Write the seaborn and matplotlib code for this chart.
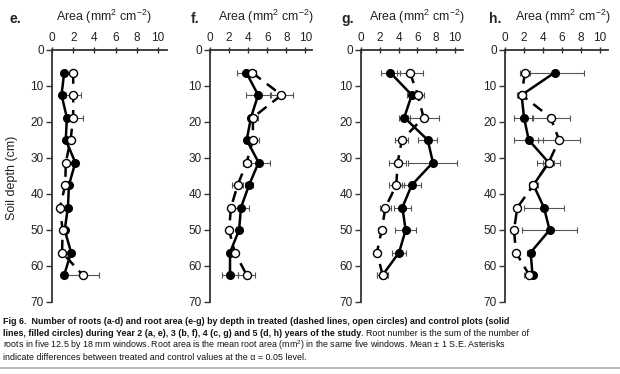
import numpy as np
import pandas as pd
import matplotlib
matplotlib.use("Agg")
import matplotlib.pyplot as plt
import seaborn as sns
from matplotlib import font_manager as fm

sns.set_style("white")
plt.rcParams["font.family"] = ["Liberation Sans", "DejaVu Sans"]
plt.rcParams["mathtext.fontset"] = "custom"
plt.rcParams["mathtext.rm"] = "Liberation Sans"
plt.rcParams["mathtext.it"] = "Liberation Sans:italic"
plt.rcParams["mathtext.bf"] = "Liberation Sans:bold"

# ---------------- data ----------------
depth = [6.25, 12.5, 18.75, 25, 31.25, 37.5, 43.75, 50, 56.25, 62.5]
panel_labels = ["e.", "f.", "g.", "h."]
x_ticks = [0, 2, 4, 6, 8, 10]
y_ticks = [0, 10, 20, 30, 40, 50, 60, 70]

e_control = [1.15, 0.9, 1.4, 1.3, 2.2, 1.6, 1.5, 1.2, 1.8, 1.15]
e_control_se = [0.15, 0.15, 0.2, 0.2, 0.3, 0.2, 0.2, 0.15, 0.3, 0.2]
e_treated = [2.0, 2.0, 2.0, 1.75, 1.3, 1.25, 0.75, 1.0, 0.95, 2.9]
e_treated_se = [0.2, 0.7, 0.9, 0.3, 0.2, 0.2, 0.2, 0.15, 0.2, 1.5]

f_control = [3.8, 5.05, 4.3, 3.85, 5.1, 4.1, 3.25, 3.05, 2.1, 2.1]
f_control_se = [1.0, 1.3, 0.3, 0.3, 1.2, 0.4, 0.8, 0.3, 0.2, 0.8]
f_treated = [4.4, 7.5, 4.5, 4.5, 3.85, 2.9, 2.2, 2.0, 2.6, 3.85]
f_treated_se = [0.4, 1.2, 0.5, 0.6, 0.4, 0.6, 0.1, 0.2, 0.2, 0.9]

g_control = [3.1, 5.4, 4.6, 7.1, 7.65, 5.4, 4.4, 4.75, 4.05, 2.3]
g_control_se = [1.0, 0.5, 0.6, 1.0, 2.6, 1.0, 0.9, 1.1, 0.7, 0.6]
g_treated = [5.2, 6.05, 6.65, 4.35, 3.9, 3.75, 2.6, 2.2, 1.7, 2.3]
g_treated_se = [1.4, 0.7, 1.6, 0.7, 0.9, 0.8, 0.6, 0.4, 0.3, 0.6]

h_control = [5.25, 1.75, 2.0, 2.5, 4.6, 3.0, 4.1, 4.7, 2.7, 2.9]
h_control_se = [3.1, 0.5, 1.0, 1.5, 0.6, 0.4, 2.1, 2.9, 0.4, 0.3]
h_treated = [2.1, 1.75, 4.8, 5.7, 4.6, 3.0, 1.3, 0.95, 1.15, 2.55]
h_treated_se = [0.5, 0.4, 2.0, 2.2, 1.2, 0.5, 0.3, 0.3, 0.2, 0.5]

panels = [
    (e_control, e_control_se, e_treated, e_treated_se),
    (f_control, f_control_se, f_treated, f_treated_se),
    (g_control, g_control_se, g_treated, g_treated_se),
    (h_control, h_control_se, h_treated, h_treated_se),
]

caption_lines = [
    "Fig 6.  Number of roots (a-d) and root area (e-g) by depth in treated (dashed lines, open circles) and control plots (solid",
    "lines, filled circles) during Year 2 (a, e), 3 (b, f), 4 (c, g) and 5 (d, h) years of the study",
    ". Root number is the sum of the number of",
    "roots in five 12.5 by 18 mm windows. Root area is the mean root area (mm$^{2}$) in the same five windows. Mean \u00b1 1 S.E. Asterisks",
    "indicate differences between treated and control values at the \u03b1 = 0.05 level.",
]

# ---------------- layout (pixels) ----------------
W, H = 620, 374
fig = plt.figure(figsize=(W / 100, H / 100), dpi=100)
ax_px = [(52, 167), (210, 312), (361, 463), (505, 608)]
xmax = [10.85, 10.7, 10.85, 10.85]
top_px, bot_px = 50, 302
title_cx = [104.5, 266, 417, 563]
label_x = [10, 191, 341, 489]

tick_font = 8.5

for i, (ctl, ctl_se, trt, trt_se) in enumerate(panels):
    l, r = ax_px[i]
    ax = fig.add_axes([l / W, (H - bot_px) / H, (r - l) / W, (bot_px - top_px) / H])
    ax.set_facecolor("none")
    df = pd.DataFrame({
        "depth": depth * 2,
        "area": list(ctl) + list(trt),
        "se": list(ctl_se) + list(trt_se),
        "plot": ["control"] * len(depth) + ["treated"] * len(depth),
    })
    dc = df[df["plot"] == "control"]
    dt = df[df["plot"] == "treated"]
    ax.errorbar(dc["area"], dc["depth"], xerr=dc["se"], fmt="none",
                ecolor="#555555", elinewidth=0.8, capsize=2.5, capthick=0.8, zorder=1)
    ax.errorbar(dt["area"], dt["depth"], xerr=dt["se"], fmt="none",
                ecolor="#555555", elinewidth=0.8, capsize=2.5, capthick=0.8, zorder=1)
    sns.lineplot(data=dc, x="area", y="depth", sort=False, estimator=None,
                 errorbar=None, ax=ax, color="black", linewidth=1.8,
                 marker="o", markersize=5.5, markerfacecolor="black",
                 markeredgecolor="black", markeredgewidth=1.0, zorder=3)
    sns.lineplot(data=dt, x="area", y="depth", sort=False, estimator=None,
                 errorbar=None, ax=ax, color="black", linewidth=1.8,
                 linestyle=(0, (4.5, 3)),
                 marker="o", markersize=5.8, markerfacecolor="white",
                 markeredgecolor="black", markeredgewidth=1.0, zorder=4)
    ax.set_xlim(0, xmax[i])
    ax.set_ylim(70, 0)
    ax.set_xticks(x_ticks)
    ax.set_yticks(y_ticks)
    ax.set_xlabel("")
    ax.set_ylabel("")
    ax.xaxis.tick_top()
    ax.xaxis.set_label_position("top")
    for s in ["right", "bottom"]:
        ax.spines[s].set_visible(False)
    for s in ["top", "left"]:
        ax.spines[s].set_color("#333333")
        ax.spines[s].set_linewidth(1.3)
    ax.tick_params(axis="x", which="both", top=True, bottom=False, direction="inout",
                   length=5, width=1.0, color="#333333", labelsize=tick_font, pad=2,
                   labelcolor="#222222")
    ax.tick_params(axis="y", which="both", left=True, direction="out",
                   length=4, width=1.0, color="#333333", labelsize=tick_font, pad=2,
                   labelcolor="#222222")
    ax.grid(False)

    fig.text(title_cx[i] / W, 1 - 17 / H, "Area (mm$^{2}$ cm$^{-2}$)",
             ha="center", va="center", fontsize=9, color="#222222")
    fig.text(label_x[i] / W, 1 - 19 / H, panel_labels[i], ha="left", va="center",
             fontsize=10, fontweight="bold", color="#222222")

fig.text(12 / W, 1 - 178 / H, "Soil depth (cm)", rotation=90, ha="center",
         va="center", fontsize=9, color="#222222")

# ---------------- caption ----------------
try:
    fm.findfont("Liberation Sans Narrow", fallback_to_default=False)
    cap_family = ["Liberation Sans Narrow", "DejaVu Sans"]
except Exception:
    cap_family = ["Liberation Sans", "DejaVu Sans"]

cap_x = 3 / W
baselines = [324.5, 336.2, 347.9, 359.6]
renderer = fig.canvas.get_renderer()

# size the caption so its first line spans the same width as in the reference
probe = fig.text(cap_x, 0.5, caption_lines[0], fontsize=6, family=cap_family,
                 fontweight="bold")
w6 = probe.get_window_extent(renderer).width
probe.remove()
cap_size = 6 * (512.0 / w6)

kw = dict(ha="left", va="baseline", fontsize=cap_size, family=cap_family, color="#111111")
fig.text(cap_x, 1 - baselines[0] / H, caption_lines[0], fontweight="bold", **kw)
t2 = fig.text(cap_x, 1 - baselines[1] / H, caption_lines[1], fontweight="bold", **kw)
fig.text(cap_x, 1 - baselines[2] / H, caption_lines[3], **kw)
fig.text(cap_x, 1 - baselines[3] / H, caption_lines[4], **kw)
bb = t2.get_window_extent(renderer)
fig.text(bb.x1 / W, 1 - baselines[1] / H, caption_lines[2], **kw)

fig.add_artist(plt.Line2D([0, 1], [1 - 367.5 / H] * 2, color="#bbbbbb", linewidth=1.5))

fig.savefig("out.png", dpi=100)
